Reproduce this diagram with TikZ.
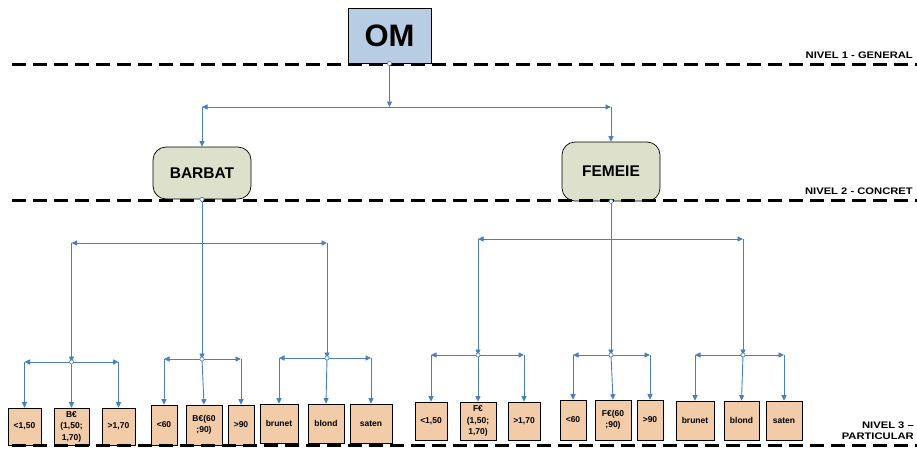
\documentclass[tikz,border=0pt]{standalone}
\usepackage{fontspec}
\setmainfont{Liberation Sans}
\usetikzlibrary{arrows.meta}
\definecolor{connc}{RGB}{74,126,193}
\definecolor{peach}{RGB}{242,203,168}
\definecolor{olivec}{RGB}{221,224,202}
\definecolor{omblue}{RGB}{184,204,228}
\begin{document}
\begin{tikzpicture}[x=1pt,y=-1pt,
  conn/.style={draw=connc, line width=0.9pt, -{Triangle[length=5.5pt,width=5pt]}},
  jdot/.style={circle, draw=connc, fill=white, line width=0.6pt, inner sep=0pt, minimum size=4.2pt},
  leafbox/.style={draw=black, line width=0.6pt, fill=peach, inner sep=0pt, align=center, font=\fontsize{8.5}{11.5}\selectfont\bfseries},
  catbox/.style={draw=black, line width=0.7pt, fill=olivec, rounded corners=13pt, inner sep=0pt, minimum width=98pt, font=\fontsize{15.5}{18}\selectfont\bfseries},
  dashline/.style={draw=black, line width=3pt, dash pattern=on 14pt off 7pt},
  lvl/.style={inner sep=0pt, font=\fontsize{9.5}{11}\selectfont\bfseries, anchor=base east}]
\useasboundingbox (0,0) rectangle (917,450);

% top node
\node[draw=black, line width=0.8pt, fill=omblue, minimum width=83pt, minimum height=55pt, inner sep=0pt, font=\fontsize{31}{35}\selectfont\bfseries] (om) at (389.5,35.5) {OM};
\node[catbox, minimum height=52pt] (barbat) at (202,173) {BARBAT};
\node[catbox, minimum height=59pt] (femeie) at (611,171.5) {FEMEIE};

% leaves, left
\node[leafbox, minimum width=33pt, minimum height=37pt] (l1a) at (24.5,426.5) {<1,50};
\node[leafbox, minimum width=35pt, minimum height=37pt] (l1b) at (71.5,426.5) {B€\\(1,50;\\1,70)};
\node[leafbox, minimum width=33pt, minimum height=37pt] (l1c) at (118.5,426.5) {>1,70};
\node[leafbox, minimum width=26pt, minimum height=40pt] (l2a) at (164,425) {<60};
\node[leafbox, minimum width=36pt, minimum height=40pt] (l2b) at (204,425) {B€(60\\;90)};
\node[leafbox, minimum width=26pt, minimum height=40pt] (l2c) at (241,425) {>90};
\node[leafbox, minimum width=38pt, minimum height=39pt] (l3a) at (279,423.5) {brunet};
\node[leafbox, minimum width=36pt, minimum height=39pt] (l3b) at (326,423.5) {blond};
\node[leafbox, minimum width=42pt, minimum height=39pt] (l3c) at (371,423.5) {saten};
% leaves, right
\node[leafbox, minimum width=32pt, minimum height=38pt] (r1a) at (431,421) {<1,50};
\node[leafbox, minimum width=36pt, minimum height=38pt] (r1b) at (478,421) {F€\\(1,50;\\1,70)};
\node[leafbox, minimum width=32pt, minimum height=38pt] (r1c) at (524,421) {>1,70};
\node[leafbox, minimum width=26pt, minimum height=40pt] (r2a) at (573,420) {<60};
\node[leafbox, minimum width=36pt, minimum height=40pt] (r2b) at (613,420) {F€(60\\;90)};
\node[leafbox, minimum width=26pt, minimum height=40pt] (r2c) at (650,420) {>90};
\node[leafbox, minimum width=38pt, minimum height=39pt] (r3a) at (695,420.5) {brunet};
\node[leafbox, minimum width=35pt, minimum height=39pt] (r3b) at (741.5,420.5) {blond};
\node[leafbox, minimum width=36pt, minimum height=39pt] (r3c) at (784,420.5) {saten};

% level separators
\draw[dashline] (12,64) -- (917,64);
\draw[dashline] (12,200) -- (917,200);
\draw[dashline] (12,445.5) -- (917,445.5);

% level labels
\node[lvl] (n1) at (913,58.5) {\scalebox{1.18}[1]{NIVEL 1 - GENERAL}};
\node[lvl] (n2) at (913,194) {\scalebox{1.18}[1]{NIVEL 2 - CONCRET}};
\node[lvl] (n3a) at (914,428.3) {\scalebox{1.18}[1]{NIVEL 3 –}};
\node[lvl] (n3b) at (914,439) {\scalebox{1.18}[1]{PARTICULAR}};

% junction coordinates
\coordinate (j0) at (389.5,107);
\coordinate (jL) at (barbat.north |- j0);
\coordinate (jR) at (femeie.north |- j0);
\coordinate (hL) at (202,243);
\coordinate (hLa) at (71.5,243);
\coordinate (hLc) at (327,243);
\coordinate (hR) at (611,239);
\coordinate (hRa) at (478,239);
\coordinate (hRc) at (743,239);
\coordinate (s1) at (71.5,362);
\coordinate (s2) at (202,359);
\coordinate (s3) at (327,358);
\coordinate (t1) at (478,355);
\coordinate (t2) at (611,355);
\coordinate (t3) at (743,355);

% level 1 -> 2
\draw[conn] (om.south) -- (j0);
\draw[conn] (j0) -- (jL);
\draw[conn] (jL) -- (barbat.north);
\draw[conn] (j0) -- (jR);
\draw[conn] (jR) -- (femeie.north);

% BARBAT -> subgroups
\draw[conn] (barbat.south) -- (s2);
\draw[conn] (hL) -- (hLa);
\draw[conn] (hLa) -- (s1);
\draw[conn] (hL) -- (hLc);
\draw[conn] (hLc) -- (s3);

% FEMEIE -> subgroups
\draw[conn] (femeie.south) -- (t2);
\draw[conn] (hR) -- (hRa);
\draw[conn] (hRa) -- (t1);
\draw[conn] (hR) -- (hRc);
\draw[conn] (hRc) -- (t3);

% subgroups -> leaves
\foreach \s/\a/\b/\c in {s1/l1a/l1b/l1c, s2/l2a/l2b/l2c, s3/l3a/l3b/l3c, t1/r1a/r1b/r1c, t2/r2a/r2b/r2c, t3/r3a/r3b/r3c}{
  \draw[conn] (\s) -- (\a.north |- \s);
  \draw[conn] (\a.north |- \s) -- (\a.north);
  \draw[conn] (\s) -- (\c.north |- \s);
  \draw[conn] (\c.north |- \s) -- (\c.north);
  \draw[conn] (\s) -- (\b.north);
}

% junction dots
\foreach \p in {om.south, barbat.south, femeie.south, s1, s2, s3, t1, t2, t3}{
  \node[jdot] at (\p) {};
}
\end{tikzpicture}
\end{document}
